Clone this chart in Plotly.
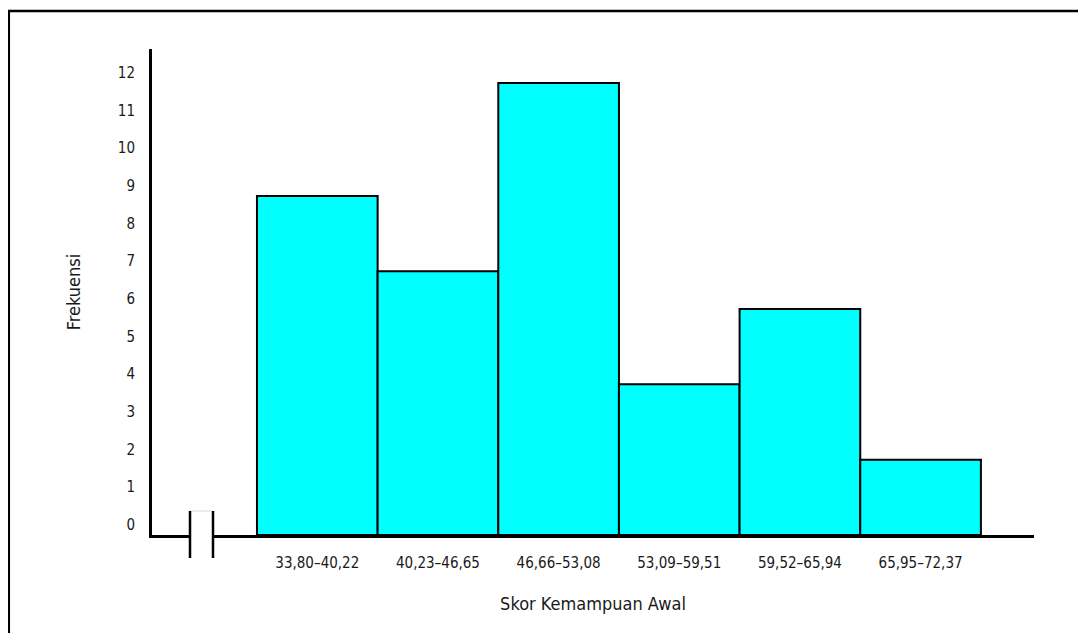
import plotly.graph_objects as go

# Data
categories = ["33,80–40,22", "40,23–46,65", "46,66–53,08", "53,09–59,51", "59,52–65,94", "65,95–72,37"]
frequencies = [9, 7, 12, 4, 6, 2]
y_ticks = list(range(0, 13))
x_title = "Skor Kemampuan Awal"
y_title = "Frekuensi"

# page body has an 8px margin; figure is sized to fit the window
OFF = 8
W, H = 1086 - 2 * OFF, 641 - 2 * OFF
L, R, T, B = 144, 44, 41, 98
pw, ph = W - L - R, H - T - B

def px_x(p):  # page x -> paper
    return (p - OFF - L) / pw

def px_y(p):  # page y -> paper
    return (H - B - (p - OFF)) / ph

FONT = "DejaVu Sans Condensed, Arial Narrow, sans-serif"
TXT = "#1a1a1a"

positions = list(range(len(categories)))

fig = go.Figure(go.Bar(
    x=positions,
    y=frequencies,
    width=1,
    marker=dict(color="#00FFFF", line=dict(color="black", width=2)),
    hoverinfo="skip",
))

tick_offset = 0.27  # labels in the original sit slightly above their gridline

fig.update_layout(
    width=W, height=H,
    margin=dict(l=L, r=R, t=T, b=B),
    paper_bgcolor="white", plot_bgcolor="white",
    showlegend=False,
    font=dict(family=FONT, color=TXT),
    xaxis=dict(
        range=[-1.37, 5.94],
        tickvals=positions, ticktext=categories,
        tickfont=dict(size=15, family=FONT, color=TXT),
        showgrid=False, zeroline=False,
        showline=True, linecolor="black", linewidth=3,
        ticks="", ticklabelstandoff=12,
        title=dict(text=x_title, font=dict(size=18, family=FONT, color=TXT), standoff=27),
        fixedrange=True,
    ),
    yaxis=dict(
        range=[0, 12.9],
        tickvals=[v + tick_offset for v in y_ticks],
        ticktext=[str(v) for v in y_ticks],
        tickfont=dict(size=15, family=FONT, color=TXT),
        showgrid=False, zeroline=False,
        showline=True, linecolor="black", linewidth=3,
        ticks="", ticklabelstandoff=11,
        title=dict(text=y_title, font=dict(size=18, family=FONT, color=TXT), standoff=33),
        fixedrange=True,
    ),
)

shapes = []
# outer frame (top and left visible)
shapes.append(dict(type="rect", xref="paper", yref="paper",
                   x0=px_x(8.8), x1=px_x(1120), y0=px_y(680), y1=px_y(11),
                   line=dict(color="black", width=2.5), fillcolor="rgba(0,0,0,0)", layer="below"))
# axis break
shapes.append(dict(type="rect", xref="paper", yref="paper",
                   x0=px_x(190), x1=px_x(213), y0=px_y(558), y1=px_y(511),
                   line=dict(width=0), fillcolor="white", layer="above"))
shapes.append(dict(type="line", xref="paper", yref="paper",
                   x0=px_x(190), x1=px_x(213), y0=px_y(511), y1=px_y(511),
                   line=dict(color="#e6e6e6", width=1.5), layer="above"))
for xx in (190, 213):
    shapes.append(dict(type="line", xref="paper", yref="paper",
                       x0=px_x(xx), x1=px_x(xx), y0=px_y(558), y1=px_y(511),
                       line=dict(color="black", width=2.5), layer="above"))
fig.update_layout(shapes=shapes)

fig.write_html("out.html")
